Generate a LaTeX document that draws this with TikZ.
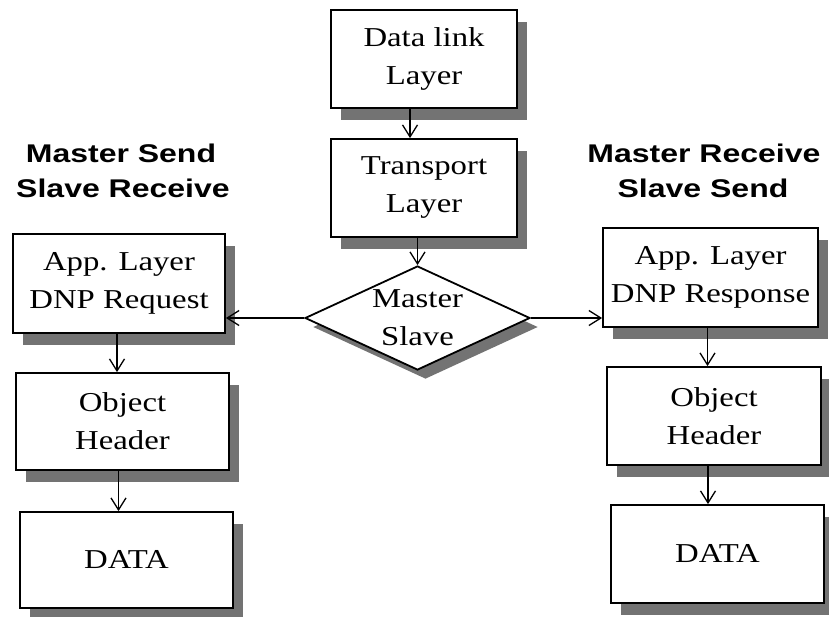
\documentclass[tikz,border=0pt]{standalone}
\usepackage{fontspec}
\setmainfont{Liberation Serif}[FakeStretch=1.2]
\newfontfamily\titlefont{Liberation Sans}[FakeStretch=1.25]
\usetikzlibrary{shapes.geometric,shadows,arrows.meta}

\begin{document}
\begin{tikzpicture}[x=1pt,y=-1pt,
  shade box/.style={drop shadow={shadow xshift=10pt, shadow yshift=-12pt,
      fill=black!55, opacity=1}},
  box/.style={rectangle, draw=black, line width=1.8pt, fill=white, inner sep=0pt,
      align=center, font=\fontsize{27.3}{38}\selectfont, shade box},
  dmd/.style={diamond, draw=black, line width=1.8pt, fill=white, inner sep=0pt,
      minimum width=225pt, minimum height=104pt,
      drop shadow={shadow xshift=8pt, shadow yshift=-9pt, fill=black!55, opacity=1}},
  dtext/.style={align=center, inner sep=0pt, font=\fontsize{27.3}{38}\selectfont},
  title/.style={anchor=base, inner sep=0pt,
      font=\titlefont\bfseries\fontsize{25.6}{35}\selectfont},
  conn/.style={line width=1.3pt,
      -{Straight Barb[length=12pt, width=15pt, line width=1.3pt]}}]

\fill[white] (0,0) rectangle (829,616);
\useasboundingbox (0,0) rectangle (829,616);

% central stack
\node[box, minimum width=186pt, minimum height=98pt] (dl) at (424,59) {Data link\\Layer};
\node[box, minimum width=186pt, minimum height=98pt] (tl) at (424,188) {Transport\\Layer};
\node[dmd] (ms) at (417.5,318) {};
\node[dtext] (mstext) at (ms.center) {Master\\Slave};

% column titles
\node[title] (tleft1) at (121,162) {Master Send};
\node[title] (tleft2) at (123,197) {Slave Receive};
\node[title] (tright1) at (704,162) {Master Receive};
\node[title] (tright2) at (703,197) {Slave Send};

% request side
\node[box, minimum width=212pt, minimum height=99pt] (req) at (119,283.5) {App. Layer\\DNP Request};
\node[box, minimum width=213pt, minimum height=97pt] (objl) at (122.5,421.5) {Object\\Header};
\node[box, minimum width=213pt, minimum height=96pt] (datal) at (126.5,560) {DATA};

% response side
\node[box, minimum width=215pt, minimum height=99pt] (resp) at (710.5,277.5) {App. Layer\\DNP Response};
\node[box, minimum width=214pt, minimum height=98pt] (objr) at (714,416) {Object\\Header};
\node[box, minimum width=213pt, minimum height=98pt] (datar) at (717.5,554) {DATA};

% connectors
\draw[conn] ([xshift=-14pt]dl.south) -- ([xshift=-14pt]tl.north);
\draw[conn] (ms.north |- tl.south) -- (ms.north);
\draw[conn] (ms.west) -- (ms.west -| req.east);
\draw[conn] (ms.east) -- (ms.east -| resp.west);
\draw[conn] ([xshift=-2pt]req.south) -- ([xshift=-2pt]req.south |- objl.north);
\draw[conn] ([xshift=-4pt]objl.south) -- ([xshift=-4pt]objl.south |- datal.north);
\draw[conn] ([xshift=-3pt]resp.south) -- ([xshift=-3pt]resp.south |- objr.north);
\draw[conn] ([xshift=-6pt]objr.south) -- ([xshift=-6pt]objr.south |- datar.north);
\end{tikzpicture}
\end{document}
